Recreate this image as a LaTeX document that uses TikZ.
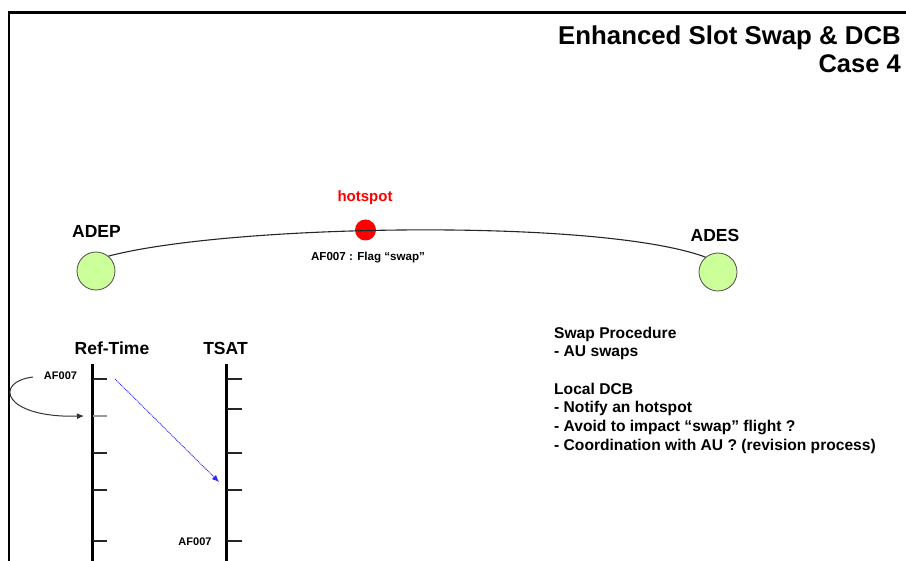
\documentclass[tikz,border=0pt]{standalone}
\usepackage{fontspec}
\setmainfont{Liberation Sans}
\usetikzlibrary{arrows.meta}
\definecolor{nodegreen}{RGB}{204,255,153}
\definecolor{swapblue}{RGB}{40,40,255}
\newcommand{\fsz}[1]{\fontsize{#1}{#1}\selectfont\bfseries}
\begin{document}
\begin{tikzpicture}[x=1pt,y=-1pt,
  lbl/.style={inner sep=0pt},
  airport/.style={circle, draw=black!70, fill=nodegreen, minimum size=38pt, inner sep=0pt, line width=0.8pt},
  hot/.style={circle, fill=red, minimum size=21pt, inner sep=0pt},
  axisline/.style={line width=3pt, black},
  tickmark/.style={line width=1.3pt, black!85},
  greytick/.style={line width=1.3pt, black!40},
  route/.style={line width=1.1pt, black!85},
  loop/.style={line width=1pt, black!80, -{Latex[length=7pt,width=6pt]}},
  swaparrow/.style={line width=0.9pt, swapblue, dash pattern=on 1pt off 0.8pt, -{Latex[length=7pt,width=6pt]}},
  frame/.style={line width=2.5pt, black}]
\useasboundingbox (0,0) rectangle (906,561);
% frame
\coordinate (fA) at (9,570);
\coordinate (fB) at (9,12.5);
\coordinate (fC) at (915,12.5);
\draw[frame] (fA) -- (fB) -- (fC);
% title
\node[lbl, anchor=base east, font={\fsz{25.8}}] (title) at (901,45) {Enhanced Slot Swap \& DCB};
\node[lbl, anchor=base east, font={\fsz{25.5}}] (case) at (901,73) {Case 4};
% airports and route
\node[airport] (adep) at (96,271) {};
\node[airport] (ades) at (718,272) {};
\node[lbl, anchor=base, font={\fsz{17.5}}] (adeplbl) at (96.5,238) {ADEP};
\node[lbl, anchor=base, font={\fsz{17.5}}] (adeslbl) at (715,242) {ADES};
\node[hot] (hot) at (365.5,230) {};
\node[lbl, anchor=base, text=red, font={\fsz{15}}] (hotlbl) at (365,202) {hotspot};
\node[lbl, anchor=base, font={\fsz{11.6}}] (flag) at (368,261) {AF007 : Flag “swap”};
\draw[route] (adep.50) .. controls (230,224) and (600,218) .. (ades.130);
% timelines
\coordinate (rtTop) at (92.5,364);
\coordinate (rtBot) at (92.5,570);
\coordinate (tsTop) at (226.5,364);
\coordinate (tsBot) at (226.5,570);
\draw[axisline] (rtTop) -- (rtBot);
\draw[axisline] (tsTop) -- (tsBot);
\foreach \y in {379,453,490,541} \draw[tickmark] (93,\y) -- (107,\y);
\draw[greytick] (93,416) -- (107,416);
\foreach \y in {379,409,453,490,541} \draw[tickmark] (227,\y) -- (242,\y);
\node[lbl, anchor=base, font={\fsz{17.5}}] (reflbl) at (112,355) {Ref-Time};
\node[lbl, anchor=base, font={\fsz{17.5}}] (tsatlbl) at (225.5,355) {TSAT};
\node[lbl, anchor=base, font={\fsz{11}}] (af1) at (60.5,380) {AF007};
\node[lbl, anchor=base, font={\fsz{11}}] (af2) at (195,545) {AF007};
\coordinate (loopA) at (33,377);
\coordinate (rt2) at (84,416);
\draw[loop] (loopA) .. controls (-7,382) and (3,418) .. (rt2);
\coordinate (swA) at (115,379);
\coordinate (swB) at (219,482);
\draw[swaparrow] (swA) -- (swB);
% notes
\node[lbl, anchor=north west, align=left, font={\fontsize{15.6}{18.7}\selectfont\bfseries}] (notes) at (554,326.5)
  {Swap Procedure\\- AU swaps\\[18.7pt]Local DCB\\- Notify an hotspot\\- Avoid to impact “swap” flight ?\\- Coordination with AU ? (revision process)};
\end{tikzpicture}
\end{document}
